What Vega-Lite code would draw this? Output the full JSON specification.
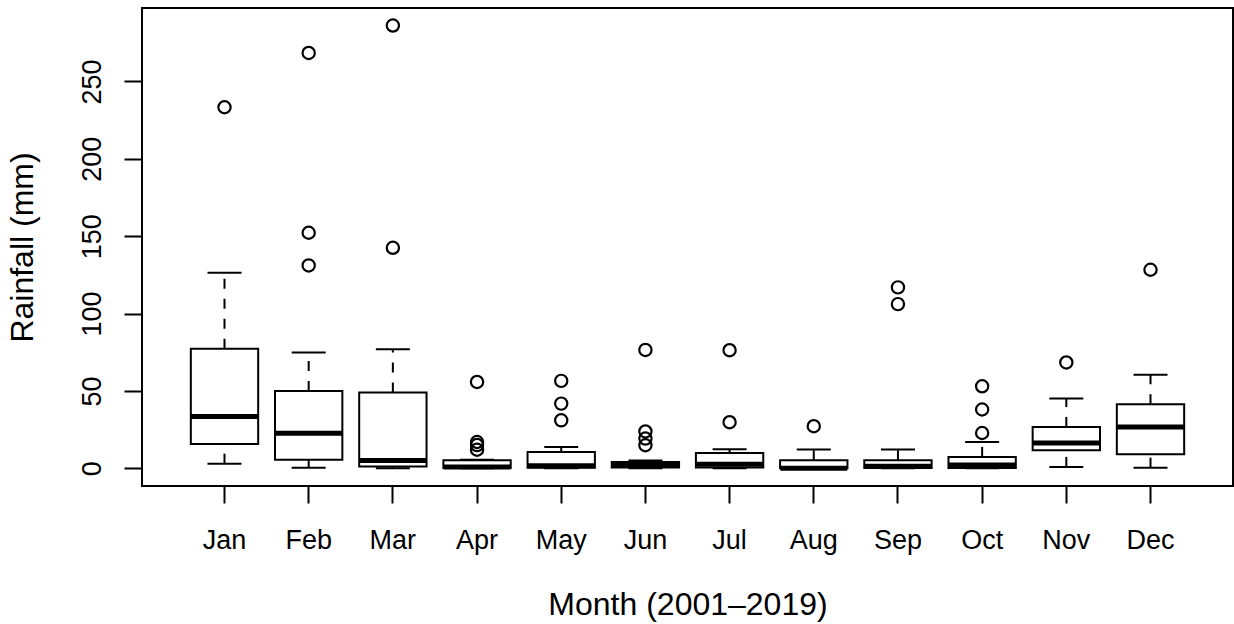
{
  "$schema": "https://vega.github.io/schema/vega-lite/v6.json",
  "width": 1091,
  "height": 478,
  "autosize": {"type": "none"},
  "padding": {"left": 142, "top": 8, "right": 1, "bottom": 138},
  "background": "white",
  "config": {
    "view": {"stroke": "black", "strokeWidth": 2},
    "font": "Liberation Sans",
    "axis": {
      "grid": false,
      "domain": false,
      "tickColor": "black",
      "tickWidth": 2,
      "labelColor": "black",
      "titleColor": "black",
      "labelFont": "Liberation Sans",
      "titleFont": "Liberation Sans",
      "labelFontSize": 27,
      "titleFontSize": 32,
      "titleFontWeight": "normal"
    },
    "axisX": {
      "tickSize": 17,
      "labelAngle": 0,
      "labelBaseline": "alphabetic",
      "labelPadding": 45,
      "titleBaseline": "alphabetic",
      "titleY": 128
    },
    "axisY": {
      "tickSize": 18,
      "labelAngle": -90,
      "labelAlign": "center",
      "labelBaseline": "alphabetic",
      "labelPadding": 24,
      "labelOverlap": false,
      "titleAngle": -90,
      "titleAlign": "center",
      "titleBaseline": "alphabetic",
      "titleX": -110,
      "titleY": 239
    }
  },
  "datasets": {
    "stats": [
      {"month": "Jan", "lo": 3.0, "q1": 15.7, "med": 33.4, "q3": 77.2, "hi": 126.3},
      {"month": "Feb", "lo": 0.4, "q1": 5.6, "med": 22.6, "q3": 50.0, "hi": 74.8},
      {"month": "Mar", "lo": 0.0, "q1": 1.1, "med": 5.0, "q3": 49.0, "hi": 77.0},
      {"month": "Apr", "lo": 0.0, "q1": 0.2, "med": 0.9, "q3": 5.2, "hi": 5.6},
      {"month": "May", "lo": 0.0, "q1": 0.3, "med": 1.6, "q3": 10.5, "hi": 13.8},
      {"month": "Jun", "lo": 0.0, "q1": 0.5, "med": 2.0, "q3": 4.0, "hi": 5.0},
      {"month": "Jul", "lo": 0.0, "q1": 0.5, "med": 2.6, "q3": 9.9, "hi": 12.3},
      {"month": "Aug", "lo": 0.0, "q1": 0.0, "med": 0.0, "q3": 5.2, "hi": 12.1},
      {"month": "Sep", "lo": 0.0, "q1": 0.2, "med": 1.4, "q3": 5.2, "hi": 12.1},
      {"month": "Oct", "lo": 0.0, "q1": 0.2, "med": 2.2, "q3": 7.3, "hi": 17.0},
      {"month": "Nov", "lo": 0.9, "q1": 11.6, "med": 16.4, "q3": 26.7, "hi": 45.1},
      {"month": "Dec", "lo": 0.4, "q1": 9.1, "med": 26.7, "q3": 41.4, "hi": 60.4}
    ],
    "outliers": [
      {"month": "Jan", "value": 233.3},
      {"month": "Feb", "value": 268.4},
      {"month": "Feb", "value": 152.2},
      {"month": "Feb", "value": 131.1},
      {"month": "Mar", "value": 286.1},
      {"month": "Mar", "value": 142.5},
      {"month": "Apr", "value": 55.8},
      {"month": "Apr", "value": 17.0},
      {"month": "Apr", "value": 15.0},
      {"month": "Apr", "value": 12.0},
      {"month": "May", "value": 56.5},
      {"month": "May", "value": 41.8},
      {"month": "May", "value": 31.0},
      {"month": "Jun", "value": 76.5},
      {"month": "Jun", "value": 23.8},
      {"month": "Jun", "value": 19.2},
      {"month": "Jun", "value": 14.9},
      {"month": "Jul", "value": 76.3},
      {"month": "Jul", "value": 29.8},
      {"month": "Aug", "value": 27.2},
      {"month": "Sep", "value": 116.9},
      {"month": "Sep", "value": 106.1},
      {"month": "Oct", "value": 53.0},
      {"month": "Oct", "value": 38.0},
      {"month": "Oct", "value": 22.8},
      {"month": "Nov", "value": 68.4},
      {"month": "Dec", "value": 128.3}
    ]
  },
  "encoding": {
    "x": {
      "field": "month",
      "type": "nominal",
      "sort": ["Jan", "Feb", "Mar", "Apr", "May", "Jun", "Jul", "Aug", "Sep", "Oct", "Nov", "Dec"],
      "scale": {
        "domain": ["Jan", "Feb", "Mar", "Apr", "May", "Jun", "Jul", "Aug", "Sep", "Oct", "Nov", "Dec"],
        "paddingInner": 0,
        "paddingOuter": 0.48
      },
      "title": "Month (2001–2019)"
    }
  },
  "layer": [
    {
      "data": {"name": "stats"},
      "mark": {"type": "rule", "color": "black", "strokeWidth": 2, "strokeDash": [10, 10], "opacity": 1},
      "encoding": {
        "y": {"field": "q3", "type": "quantitative", "scale": {"domain": [-11.44, 297.44], "nice": false, "zero": false}, "title": "Rainfall (mm)", "axis": {"values": [0, 50, 100, 150, 200, 250]}},
        "y2": {"field": "hi"}
      }
    },
    {
      "data": {"name": "stats"},
      "mark": {"type": "rule", "color": "black", "strokeWidth": 2, "strokeDash": [10, 10], "opacity": 1},
      "encoding": {
        "y": {"field": "lo", "type": "quantitative", "title": "Rainfall (mm)", "axis": {"values": [0, 50, 100, 150, 200, 250]}},
        "y2": {"field": "q1"}
      }
    },
    {
      "data": {"name": "stats"},
      "mark": {"type": "tick", "color": "black", "size": 34, "thickness": 2, "opacity": 1},
      "encoding": {
        "y": {"field": "hi", "type": "quantitative", "title": "Rainfall (mm)", "axis": {"values": [0, 50, 100, 150, 200, 250]}}
      }
    },
    {
      "data": {"name": "stats"},
      "mark": {"type": "tick", "color": "black", "size": 34, "thickness": 2, "opacity": 1},
      "encoding": {
        "y": {"field": "lo", "type": "quantitative", "title": "Rainfall (mm)", "axis": {"values": [0, 50, 100, 150, 200, 250]}}
      }
    },
    {
      "data": {"name": "stats"},
      "mark": {"type": "bar", "fill": "white", "stroke": "black", "strokeWidth": 2, "width": {"band": 0.8}, "opacity": 1},
      "encoding": {
        "y": {"field": "q1", "type": "quantitative", "title": "Rainfall (mm)", "axis": {"values": [0, 50, 100, 150, 200, 250]}},
        "y2": {"field": "q3"}
      }
    },
    {
      "data": {"name": "stats"},
      "mark": {"type": "tick", "color": "black", "size": 67, "thickness": 5, "opacity": 1},
      "encoding": {
        "y": {"field": "med", "type": "quantitative", "title": "Rainfall (mm)", "axis": {"values": [0, 50, 100, 150, 200, 250]}}
      }
    },
    {
      "data": {"name": "outliers"},
      "mark": {"type": "point", "shape": "circle", "filled": false, "color": "black", "strokeWidth": 2.2, "size": 150, "opacity": 1},
      "encoding": {
        "y": {"field": "value", "type": "quantitative", "title": "Rainfall (mm)", "axis": {"values": [0, 50, 100, 150, 200, 250]}}
      }
    }
  ]
}
